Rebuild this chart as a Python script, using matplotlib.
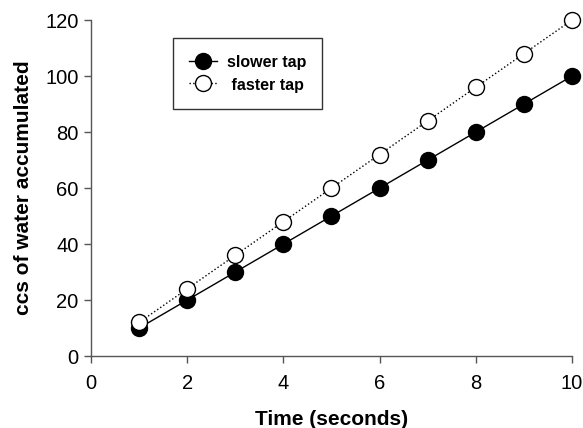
import matplotlib
matplotlib.use("Agg")
import matplotlib.pyplot as plt

plt.rcParams['font.family'] = ['Liberation Sans', 'DejaVu Sans']

time_s = [1, 2, 3, 4, 5, 6, 7, 8, 9, 10]
slower_tap = [10, 20, 30, 40, 50, 60, 70, 80, 90, 100]
faster_tap = [12, 24, 36, 48, 60, 72, 84, 96, 108, 120]
x_ticks = [0, 2, 4, 6, 8, 10]
y_ticks = [0, 20, 40, 60, 80, 100, 120]

fig = plt.figure(figsize=(5.83, 4.28), dpi=100)
ax = fig.add_axes([0.156, 0.168, 0.825, 0.785])

ax.plot(time_s, slower_tap, linestyle='-', color='black', linewidth=1.0,
        marker='o', markersize=11.5, markerfacecolor='black',
        markeredgecolor='black', label='slower tap', zorder=3, clip_on=False)
ax.plot(time_s, faster_tap, linestyle=':', color='black', linewidth=1.0,
        marker='o', markersize=11.5, markerfacecolor='white',
        markeredgecolor='black', markeredgewidth=1.0, label=' faster tap',
        zorder=4, clip_on=False)

ax.set_xlim(0, 10)
ax.set_ylim(0, 120)
ax.set_xticks(x_ticks)
ax.set_yticks(y_ticks)
ax.spines['top'].set_visible(False)
ax.spines['right'].set_visible(False)
for s in ('left', 'bottom'):
    ax.spines[s].set_color('#555555')
    ax.spines[s].set_linewidth(1.0)
ax.tick_params(direction='out', length=5, width=1.0, colors='#555555',
               labelcolor='black', labelsize=14.5, pad=4)
ax.tick_params(axis='x', pad=8)
ax.set_xlabel('Time (seconds)', fontsize=15, fontweight='bold', labelpad=12)
ax.set_ylabel('ccs of water accumulated', fontsize=15, fontweight='bold', labelpad=9)

leg = ax.legend(loc='upper left', bbox_to_anchor=(0.170, 0.946), borderaxespad=0,
                frameon=True, fancybox=False, edgecolor='black',
                prop={'weight': 'bold', 'size': 11.5},
                handlelength=1.8, handleheight=1.0, handletextpad=0.6,
                borderpad=1.0, labelspacing=0.45)
leg.get_frame().set_linewidth(1.0)

fig.savefig('out.png', dpi=100)
